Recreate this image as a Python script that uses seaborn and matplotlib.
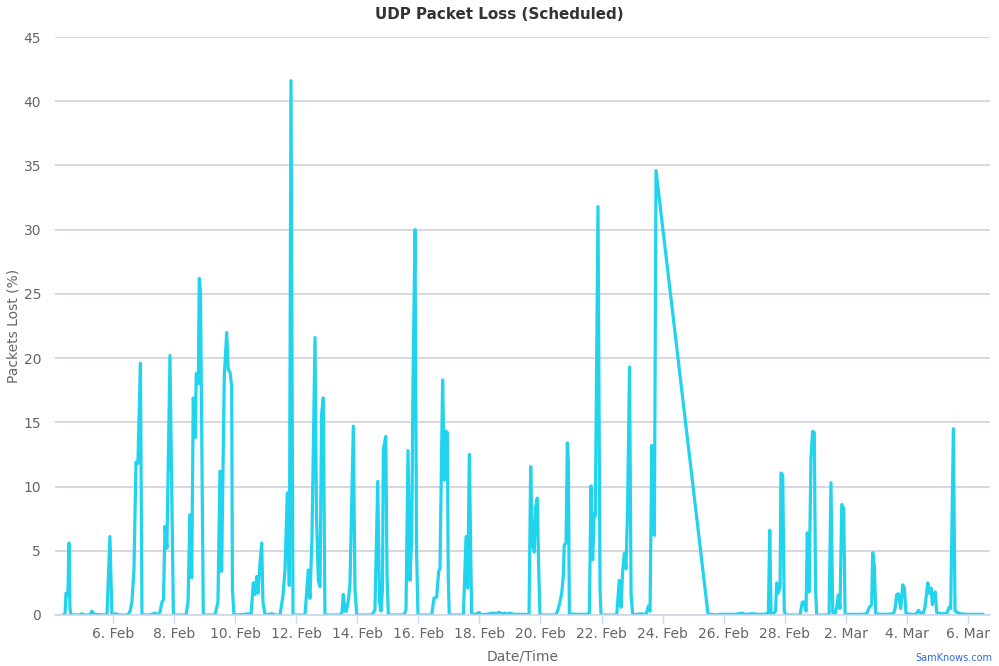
import pandas as pd
import seaborn as sns
import matplotlib
matplotlib.use("Agg")
import matplotlib.pyplot as plt
import matplotlib.dates as mdates

# ---- data ----
start_time = "2023-02-04 00:00"
hours = [8.7, 10.3, 11.1, 12.6, 13.4, 14.2, 15.0, 22.1, 23.6, 25.2, 29.9, 31.5, 33.1, 43.3, 45.6, 47.2,
         50.4, 51.9, 59.8, 61.4, 62.9, 64.5, 66.1, 67.6, 69.6, 70.8, 77.1, 81.0, 82.6, 84.9, 86.5, 87.7,
         88.9, 90.4, 92.8, 94.4, 95.5, 105.4, 107.0, 108.5, 109.9, 111.1, 112.5, 113.5, 115.1, 115.8,
         116.8, 117.6, 119.0, 128.2, 130.5, 132.1, 133.4, 135.5, 137.4, 138.6, 140.0, 141.3, 141.9,
         143.1, 151.8, 154.1, 156.5, 158.3, 159.6, 161.0, 162.0, 163.5, 164.9, 165.9, 167.5, 173.0,
         175.3, 179.3, 181.6, 183.2, 185.0, 186.6, 187.9, 189.5, 198.9, 201.5, 202.8, 204.4, 206.8,
         207.9, 209.4, 210.7, 212.0, 213.3, 214.6, 226.4, 228.0, 229.0, 230.4, 231.5, 233.1, 234.3,
         236.9, 238.2, 239.6, 251.6, 253.9, 256.1, 257.5, 258.7, 259.8, 260.5, 262.4, 263.4, 264.4,
         276.7, 278.3, 279.9, 281.4, 282.8, 283.8, 285.4, 286.6, 287.7, 298.5, 300.3, 302.4, 304.0,
         305.0, 307.1, 308.4, 309.7, 310.8, 311.5, 312.3, 323.4, 325.5, 326.8, 328.1, 329.9, 332.5,
         335.9, 337.2, 344.3, 346.7, 349.0, 351.4, 353.8, 356.1, 358.5, 360.0, 363.2, 366.3, 369.5,
         372.6, 375.0, 376.3, 377.6, 378.4, 379.1, 380.2, 381.5, 382.5, 383.6, 396.2, 398.0, 399.3,
         400.7, 401.9, 402.7, 404.1, 405.1, 405.9, 406.7, 411.1, 415.1, 419.0, 422.4, 423.7, 425.0,
         426.3, 427.1, 429.2, 430.8, 431.6, 443.9, 445.9, 447.3, 448.6, 449.9, 451.2, 452.4, 454.0,
         455.2, 456.5, 463.6, 465.4, 467.5, 468.8, 470.1, 471.5, 472.7, 473.5, 474.8, 515.7, 518.8,
         522.0, 525.1, 529.0, 533.0, 536.9, 542.2, 544.8, 550.3, 555.0, 559.7, 561.8, 563.1, 564.2,
         565.2, 567.0, 568.7, 569.7, 570.9, 572.3, 573.0, 574.4, 575.6, 576.9, 588.0, 589.8, 591.4,
         592.7, 593.7, 595.1, 596.6, 597.9, 599.2, 600.2, 601.1, 610.8, 612.3, 613.7, 615.5, 616.8,
         618.1, 619.4, 620.8, 622.3, 623.4, 627.3, 632.0, 636.7, 640.4, 642.5, 644.3, 645.1, 646.4,
         647.5, 650.9, 655.6, 661.3, 662.7, 664.0, 665.3, 667.1, 668.7, 670.0, 671.3, 676.0, 679.2,
         681.0, 682.9, 684.7, 686.2, 688.4, 689.4, 691.0, 692.0, 693.1, 694.3, 695.4, 698.8, 703.3,
         705.1, 706.4, 708.5, 709.8, 713.7, 718.5, 723.2, 727.9, 731.8]
packet_loss = [0, 0, 1.7, 1.5, 5.6, 0.5, 0, 0, 0.1, 0, 0, 0.3, 0.05, 0, 6.1, 0,
               0.1, 0, 0, 0.3, 1.0, 3.5, 11.9, 11.8, 19.6, 0, 0, 0.15, 0, 0.2, 1.0, 1.2,
               6.9, 5.2, 20.2, 8, 0, 0, 1.0, 7.8, 2.9, 16.9, 13.8, 18.8, 18.0, 26.2,
               25.1, 16, 0, 0, 1.0, 11.2, 3.4, 18.7, 22.0, 19.1, 18.9, 17.8, 2,
               0, 0.05, 0.1, 0, 2.5, 1.6, 3.0, 1.7, 4.0, 5.6, 1.0, 0, 0.1,
               0, 0, 1.5, 3.5, 9.5, 2.3, 41.6, 0, 0, 3.5, 1.3, 6, 21.6,
               8, 2.7, 2.2, 15.7, 16.9, 0, 0, 0.2, 1.6, 0.3, 0.3, 1.2, 2.5,
               14.7, 2, 0, 0, 0.4, 10.4, 1, 0.3, 2, 12.9, 13.9, 3, 0,
               0, 0.4, 12.8, 2.7, 6, 18, 30.0, 5, 0, 0, 1.3, 1.4, 3.4,
               3.6, 18.3, 10.5, 14.3, 14.2, 3, 0, 0, 6.1, 2.1, 12.5, 0, 0.05,
               0.2, 0, 0.1, 0.15, 0.1, 0.2, 0.1, 0.15, 0.05, 0.15, 0.05, 0.05, 0.05,
               0.05, 0, 11.55, 5.3, 7.3, 4.9, 8.4, 9.1, 4, 0, 0, 0.5, 1.0,
               1.7, 3.0, 5.45, 5.6, 13.4, 12, 0.1, 0.05, 0.05, 0.05, 0.1, 10.05, 4.3,
               7.9, 7.7, 31.8, 2, 0, 0, 2.7, 0.6, 3.4, 4.8, 3.6, 8, 19.3,
               1.6, 0, 0.1, 0, 0.2, 0.7, 0.3, 13.2, 6.4, 6.2, 34.6, 0.05, 0.05,
               0, 0.05, 0.05, 0.05, 0.05, 0.15, 0.05, 0.1, 0.05, 0.05, 0.1, 0.2, 6.6,
               0.1, 0.1, 0.3, 2.5, 1.7, 2.2, 11.05, 10.9, 0.3, 0, 0, 1.0, 1.0,
               0.3, 6.4, 1.8, 12.3, 14.3, 14.2, 2, 0, 0, 10.3, 0.2, 0.1, 0.6,
               1.55, 0.5, 8.6, 8.3, 0, 0.05, 0.05, 0.05, 0.1, 0.6, 0.8, 4.85, 3.8,
               0.1, 0.05, 0.05, 0.1, 0.5, 1.6, 1.65, 0.5, 2.35, 2.1, 0.1, 0.05, 0.05,
               0.35, 0.15, 0.1, 0.6, 2.5, 1.7, 2.1, 0.8, 1.7, 1.8, 0.2, 0.1, 0.1,
               0.6, 0.5, 14.5, 0.3, 0.1, 0.05, 0.05, 0.05, 0.05]

y_ticks = [0, 5, 10, 15, 20, 25, 30, 35, 40, 45]
x_tick_dates = ["2023-02-06", "2023-02-08", "2023-02-10", "2023-02-12", "2023-02-14",
                "2023-02-16", "2023-02-18", "2023-02-20", "2023-02-22", "2023-02-24",
                "2023-02-26", "2023-02-28", "2023-03-02", "2023-03-04", "2023-03-06"]
title = "UDP Packet Loss (Scheduled)"
x_label = "Date/Time"
y_label = "Packets Lost (%)"
credit = "SamKnows.com"

df = pd.DataFrame({
    "time": pd.Timestamp(start_time) + pd.to_timedelta(hours, unit="h"),
    "loss": packet_loss,
})

sns.set_theme(style="white")
plt.rcParams["font.family"] = ["DejaVu Sans"]

fig = plt.figure(figsize=(9.99, 6.66), dpi=100)
ax = fig.add_axes([0.055, 0.0766, 0.936, 0.8678])

sns.lineplot(data=df, x="time", y="loss", ax=ax, color="#22d3ee", linewidth=2.3,
             solid_joinstyle="round", solid_capstyle="round")

ax.set_ylim(0, 45)
ax.set_yticks(y_ticks)
ax.set_xlim(pd.Timestamp(start_time) + pd.Timedelta(hours=2.4),
            pd.Timestamp(start_time) + pd.Timedelta(hours=737.3))
ax.set_xticks(pd.to_datetime(x_tick_dates))
ax.xaxis.set_major_formatter(mdates.DateFormatter("%-d. %b"))

ax.yaxis.grid(True, color="#ccccdb", linewidth=1.1)
ax.xaxis.grid(False)
for s in ["top", "right", "left"]:
    ax.spines[s].set_visible(False)
ax.spines["bottom"].set_color("#ccd6eb")
ax.spines["bottom"].set_linewidth(1.1)

ax.tick_params(axis="x", colors="#666666", labelsize=10, length=6, width=1,
               direction="out", pad=3, color="#ccd6eb", bottom=True)
ax.tick_params(axis="y", colors="#666666", labelsize=10, length=0, pad=10)

ax.set_xlabel(x_label, color="#666666", fontsize=10, labelpad=6)
ax.set_ylabel(y_label, color="#666666", fontsize=10, labelpad=2)

fig.text(0.5, 0.978, title, ha="center", va="center", color="#333333",
         fontsize=10.9, fontweight="bold")
fig.text(0.993, 0.005, credit, ha="right", va="bottom", color="#2a6be0", fontsize=7)

fig.savefig("out.png", dpi=100)
